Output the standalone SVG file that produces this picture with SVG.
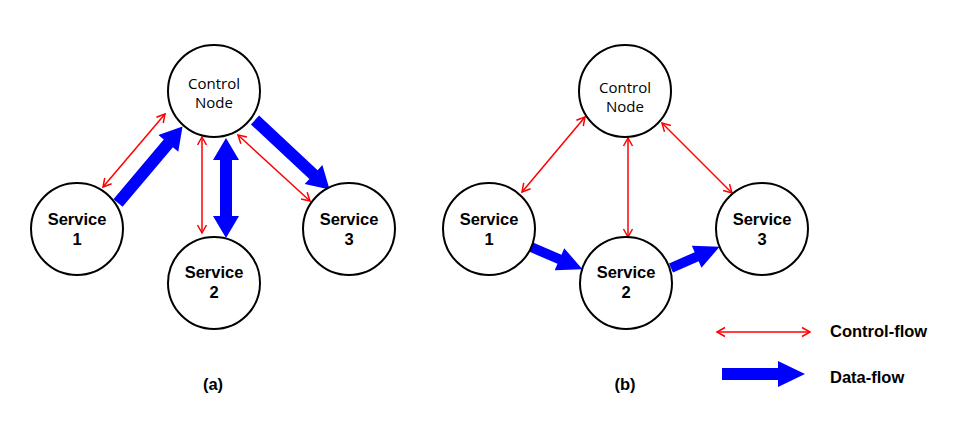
<svg xmlns="http://www.w3.org/2000/svg" width="962" height="433" viewBox="0 0 962 433">
<style>
.node{fill:#fff;stroke:#000;stroke-width:2}
.ctl{font-family:"Open Sans","Noto Sans",sans-serif;font-size:15px;fill:#000;text-anchor:middle}
.svc{font-family:"Liberation Sans",Arial,sans-serif;font-size:16.5px;font-weight:bold;fill:#000;text-anchor:middle}
.cf{stroke:#ff0000;stroke-width:1.5;fill:none;marker-start:url(#vh);marker-end:url(#vh)}
.df{fill:#0000ff;stroke:none}
.lbl{font-family:"Liberation Sans",Arial,sans-serif;font-size:16.5px;font-weight:bold;fill:#000}
</style>
<defs>
<marker id="vh" viewBox="-10 -6 12 12" refX="0" refY="0" markerWidth="12" markerHeight="12" markerUnits="userSpaceOnUse" orient="auto-start-reverse">
<path d="M-8,-4.5 L0,0 L-8,4.5" fill="none" stroke="#ff0000" stroke-width="1.5"/>
</marker>
</defs>
<rect width="962" height="433" fill="#fff"/>
<g id="connectors">
<line class="cf" x1="103" y1="187" x2="165" y2="114"/>
<line class="cf" x1="202" y1="137" x2="202" y2="233"/>
<line class="cf" x1="238" y1="135" x2="310" y2="201"/>
<path class="df" d="M0,-6 H78 V-13 L100,0 L78,13 V6 H0 Z" transform="translate(118,203) rotate(-49.8)"/>
<path class="df" d="M0,-6 H80 V-13 L102,0 L80,13 V6 H0 Z" transform="translate(255,120) rotate(43)"/>
<path class="df" d="M0,0 L13,22 H6 V78 H13 L0,100 L-13,78 H-6 V22 H-13 Z" transform="translate(226,138)"/>
<line class="cf" x1="522" y1="192" x2="585" y2="117"/>
<line class="cf" x1="628" y1="138" x2="628" y2="237"/>
<line class="cf" x1="662" y1="123" x2="732" y2="193"/>
<path class="df" d="M0,-5 H31 V-12 L56,0 L31,12 V5 H0 Z" transform="translate(531,247) rotate(23.3)"/>
<path class="df" d="M0,-5 H28 V-12 L53,0 L28,12 V5 H0 Z" transform="translate(671,268) rotate(-23.6)"/>
</g>
<g id="a-control"><circle class="node" cx="214" cy="91" r="46"/><text class="ctl" x="214" y="89">Control</text><text class="ctl" x="214" y="108">Node</text></g>
<g id="a-service1"><circle class="node" cx="77" cy="229" r="46"/><text class="svc" x="77" y="225">Service</text><text class="svc" x="77" y="245">1</text></g>
<g id="a-service2"><circle class="node" cx="214" cy="283" r="46"/><text class="svc" x="214" y="278">Service</text><text class="svc" x="214" y="298">2</text></g>
<g id="a-service3"><circle class="node" cx="349" cy="229" r="46"/><text class="svc" x="349" y="225">Service</text><text class="svc" x="349" y="245">3</text></g>
<g id="b-control"><circle class="node" cx="625" cy="91" r="46"/><text class="ctl" x="625" y="93">Control</text><text class="ctl" x="625" y="112">Node</text></g>
<g id="b-service1"><circle class="node" cx="489" cy="229" r="46"/><text class="svc" x="489" y="225">Service</text><text class="svc" x="489" y="245">1</text></g>
<g id="b-service2"><circle class="node" cx="626" cy="283" r="46"/><text class="svc" x="626" y="278">Service</text><text class="svc" x="626" y="298">2</text></g>
<g id="b-service3"><circle class="node" cx="762" cy="229" r="46"/><text class="svc" x="762" y="225">Service</text><text class="svc" x="762" y="245">3</text></g>
<g id="legend">
<line class="cf" x1="717" y1="332" x2="810" y2="332"/>
<text class="lbl" x="830" y="337">Control-flow</text>
<path class="df" d="M722,368 H778 V361 L805,374 L778,387 V380 H722 Z"/>
<text class="lbl" x="830" y="383">Data-flow</text>
</g>
<g id="captions">
<text class="lbl" x="213" y="390" text-anchor="middle">(a)</text>
<text class="lbl" x="625" y="390" text-anchor="middle">(b)</text>
</g>
</svg>
